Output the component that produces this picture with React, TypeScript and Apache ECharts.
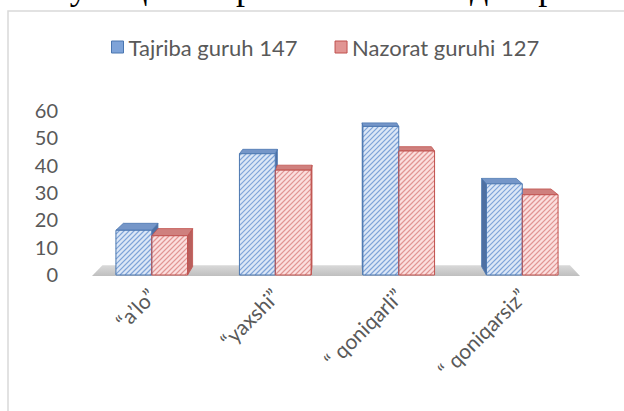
import React, { useEffect, useRef } from "react";
import * as echarts from "echarts";

const titleText = "Бу таҳлилларга мос келган диаграмма";
const categories = ["“a’lo”", "“yaxshi”", "“ qoniqarli”", "“ qoniqarsiz”"];
const seriesNames = ["Tajriba guruh 147", "Nazorat guruhi 127"];
const tajriba = [16, 44, 54, 33];
const nazorat = [14, 38, 45, 29];
const yMin = 0;
const yMax = 60;
const yStep = 10;

const FONT = "Lato, 'Noto Sans', sans-serif";
const TEXT_COLOR = "#595959";

// perspective vanishing point (pixels) and depth factors
const VX = 340;
const VY = 20;
const S_BAR = 0.033;
const S_FLOOR = 0.042;

const palettes = [
  {
    bg: "#dce7f6",
    hatch: "#7ea3d8",
    border: "#4a76b0",
    top: "#7596c8",
    side: "#4f70a2",
  },
  {
    bg: "#fbdfde",
    hatch: "#e19593",
    border: "#c0504d",
    top: "#cf807e",
    side: "#b95f5c",
  },
];

function hatchLines(x0: number, y0: number, x1: number, y1: number, color: string, step: number) {
  const out: any[] = [];
  const cStart = Math.ceil((x0 + y0) / step) * step;
  for (let c = cStart; c <= x1 + y1; c += step) {
    const xa = Math.max(x0, c - y1);
    const xb = Math.min(x1, c - y0);
    if (xb - xa < 0.3) continue;
    out.push({
      type: "line",
      z2: 11,
      silent: true,
      shape: { x1: xa, y1: c - xa, x2: xb, y2: c - xb },
      style: { stroke: color, lineWidth: 1.2 },
    });
  }
  return out;
}

function makeBarRender(idx: number) {
  const pal = palettes[idx];
  return (params: any, api: any) => {
    const cat = api.value(0);
    const val = api.value(1);
    const p0 = api.coord([cat, 0]);
    const p1 = api.coord([cat, val]);
    const band = api.size([1, 0])[0];
    const w = band * 0.29;
    const x0 = p0[0] - w + idx * w;
    const x1 = x0 + w;
    const yT = p1[1];
    const yB = p0[1] + 1;
    const back = (x: number, y: number) => [x + (VX - x) * S_BAR, y + (VY - y) * S_BAR];
    const ftl = [x0, yT], ftr = [x1, yT], fbl = [x0, yB], fbr = [x1, yB];
    const btl = back(x0, yT), btr = back(x1, yT), bbl = back(x0, yB), bbr = back(x1, yB);
    const children: any[] = [];
    if (btr[0] > x1) {
      children.push({
        type: "polygon",
        z2: 1,
        shape: { points: [ftr, btr, bbr, fbr] },
        style: { fill: pal.side, stroke: pal.border, lineWidth: 0.8 },
      });
    }
    if (btl[0] < x0) {
      children.push({
        type: "polygon",
        z2: 1,
        shape: { points: [ftl, btl, bbl, fbl] },
        style: { fill: pal.side, stroke: pal.border, lineWidth: 0.8 },
      });
    }
    children.push({
      type: "polygon",
      z2: 2,
      shape: { points: [ftl, ftr, btr, btl] },
      style: { fill: pal.top, stroke: pal.border, lineWidth: 0.8 },
    });
    children.push({
      type: "rect",
      z2: 10,
      shape: { x: x0, y: yT, width: w, height: yB - yT },
      style: { fill: pal.bg },
    });
    children.push(...hatchLines(x0, yT, x1, yB, pal.hatch, 5));
    children.push({
      type: "rect",
      z2: 12,
      shape: { x: x0, y: yT, width: w, height: yB - yT },
      style: { fill: "none", stroke: pal.border, lineWidth: 1 },
    });
    return { type: "group", children };
  };
}

function floorRender(params: any, api: any) {
  const cs = params.coordSys;
  const yF = api.coord([0, 0])[1] + 2;
  const xl = cs.x + 2;
  const xr = cs.x + cs.width - 4;
  const back = (x: number, y: number) => [x + (VX - x) * S_FLOOR, y + (VY - y) * S_FLOOR];
  return {
    type: "polygon",
    z2: 0,
    shape: { points: [[xl, yF], [xr, yF], back(xr, yF), back(xl, yF)] },
    style: {
      fill: new echarts.graphic.LinearGradient(0, 0, 0, 1, [
        { offset: 0, color: "#d9d9d9" },
        { offset: 1, color: "#bfbfbf" },
      ]),
    },
  };
}

export default function App() {
  const ref = useRef<HTMLDivElement>(null);
  useEffect(() => {
    if (!ref.current) return;
    const chart = echarts.init(ref.current, undefined, { renderer: "svg" });
    const seriesData = [tajriba, nazorat];
    chart.setOption({
      animation: false,
      backgroundColor: "#ffffff",
      textStyle: { fontFamily: FONT },
      graphic: [
        {
          type: "rect",
          silent: true,
          shape: { x: 8, y: 11, width: 700, height: 500 },
          style: { fill: "none", stroke: "#d9d9d9", lineWidth: 1.5 },
        },
        {
          type: "text",
          x: 50,
          y: -13,
          silent: true,
          style: {
            text: titleText,
            font: "36px 'Liberation Serif', 'DejaVu Serif', serif",
            fill: "#000000",
            verticalAlign: "middle",
          },
        },
      ],
      legend: {
        top: 36,
        left: 111,
        padding: 0,
        itemGap: 37,
        itemWidth: 12,
        itemHeight: 12,
        icon: "rect",
        textStyle: { fontFamily: FONT, fontSize: 22, color: TEXT_COLOR },
        data: seriesNames.map((n, i) => ({
          name: n,
          itemStyle: { color: palettes[i].hatch, borderColor: palettes[i].border, borderWidth: 1 },
        })),
      },
      grid: { left: 90, right: 40, top: 110, bottom: 137 },
      xAxis: {
        type: "category",
        data: categories,
        axisLine: { show: false },
        axisTick: { show: false },
        axisLabel: {
          interval: 0,
          rotate: 45,
          margin: 18,
          fontFamily: FONT,
          fontSize: 21,
          color: TEXT_COLOR,
        },
      },
      yAxis: {
        type: "value",
        min: yMin,
        max: yMax,
        interval: yStep,
        axisLine: { show: false },
        axisTick: { show: false },
        splitLine: { show: false },
        axisLabel: { margin: 32, fontFamily: FONT, fontSize: 20, color: TEXT_COLOR },
      },
      series: [
        {
          type: "custom",
          name: "floor",
          silent: true,
          renderItem: floorRender,
          data: [[0, 0]],
          encode: { x: 0, y: 1 },
          z: 1,
        },
        ...seriesData.map((arr, i) => ({
          type: "custom",
          name: seriesNames[i],
          renderItem: makeBarRender(i),
          itemStyle: { color: palettes[i].hatch },
          data: arr.map((v, k) => [k, v]),
          encode: { x: 0, y: 1 },
          z: 2,
        })),
      ],
    });
    return () => chart.dispose();
  }, []);
  return (
    <div
      ref={ref}
      style={{ position: "fixed", left: 0, top: 0, width: 624, height: 411 }}
    />
  );
}
